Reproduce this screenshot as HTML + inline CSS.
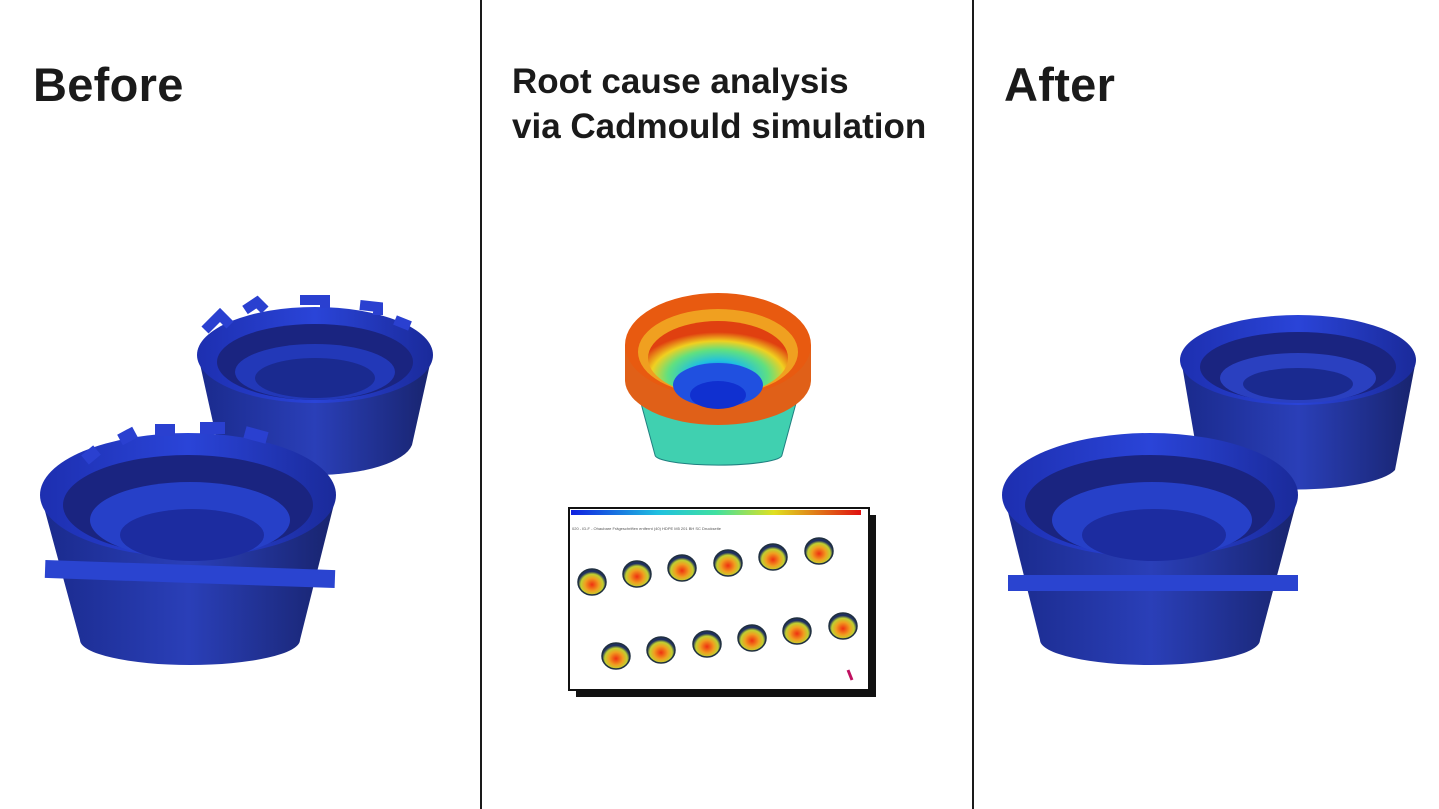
<!DOCTYPE html>
<html><head><meta charset="utf-8"><style>
html,body{margin:0;padding:0;background:#fff;}
body{width:1439px;height:809px;position:relative;overflow:hidden;font-family:"Liberation Sans",sans-serif;color:#1a1a1a;}
.t{position:absolute;font-weight:bold;margin:0;}
.vl{position:absolute;top:0;width:2px;height:809px;background:#1a1a1a;}
svg{position:absolute;left:0;top:0;}
</style></head><body>
<div class="vl" style="left:480px"></div>
<div class="vl" style="left:972px"></div>
<div class="t" style="left:33px;top:57px;font-size:47px;letter-spacing:0.3px">Before</div>
<div class="t" style="left:1004px;top:57px;font-size:47px;letter-spacing:0.3px">After</div>
<div class="t" style="left:512px;top:59px;font-size:35px;line-height:45px;letter-spacing:0px">Root cause analysis<br>via Cadmould simulation</div>
<svg width="1439" height="809" viewBox="0 0 1439 809">
<defs>
<linearGradient id="bl" x1="0" x2="1"><stop offset="0" stop-color="#1d2fb0"/><stop offset="0.5" stop-color="#2a44d8"/><stop offset="1" stop-color="#1a2a9a"/></linearGradient>
<linearGradient id="bd" x1="0" x2="1"><stop offset="0" stop-color="#1a2a8c"/><stop offset="0.5" stop-color="#2a3fb8"/><stop offset="1" stop-color="#18246e"/></linearGradient>
<radialGradient id="sim" cx="0.5" cy="0.75" r="0.6"><stop offset="0" stop-color="#1030e0"/><stop offset="0.35" stop-color="#20c0e0"/><stop offset="0.6" stop-color="#60e080"/><stop offset="0.8" stop-color="#f0d020"/><stop offset="1" stop-color="#e04010"/></radialGradient>
<linearGradient id="bar" x1="0" x2="1"><stop offset="0" stop-color="#1020e0"/><stop offset="0.3" stop-color="#20c0e0"/><stop offset="0.5" stop-color="#40e0a0"/><stop offset="0.7" stop-color="#e0e020"/><stop offset="1" stop-color="#e01010"/></linearGradient>
<radialGradient id="mini" cx="0.5" cy="0.6" r="0.5"><stop offset="0" stop-color="#f03010"/><stop offset="0.5" stop-color="#f0a020"/><stop offset="0.8" stop-color="#c0d030"/><stop offset="1" stop-color="#203060"/></radialGradient>
</defs>
<g>
<path d="M198 355 L218 445 A98 35 0 0 0 412 445 L432 355 Z" fill="url(#bd)"/>
<ellipse cx="315" cy="355" rx="118" ry="48" fill="url(#bl)"/>
<ellipse cx="315" cy="362" rx="98" ry="38" fill="#1a2480"/>
<ellipse cx="315" cy="372" rx="80" ry="28" fill="#2238b8"/>
<ellipse cx="315" cy="378" rx="60" ry="20" fill="#1a2a90"/>
<path d="M205 330 l15 -15 l10 10 M245 310 l12 -8 l8 8 M300 300 h25 v8 M360 305 l18 2 v8 M395 320 l15 6" stroke="#2a40d0" stroke-width="10" fill="none"/>
</g>
<g>
<path d="M42 500 L80 640 A110 25 0 0 0 300 640 L335 500 Z" fill="url(#bd)"/>
<ellipse cx="188" cy="495" rx="148" ry="62" fill="url(#bl)"/>
<ellipse cx="188" cy="505" rx="125" ry="50" fill="#1a2480"/>
<ellipse cx="190" cy="520" rx="100" ry="38" fill="#2640c8"/>
<ellipse cx="192" cy="535" rx="72" ry="26" fill="#1c2ca0"/>
<rect x="45" y="565" width="290" height="18" fill="#2a44d0" transform="rotate(2 190 574)"/>
<path d="M85 460 l12 -10 M120 440 l15 -8 M155 430 h20 M200 428 h25 M245 432 l22 6" stroke="#2a40d0" stroke-width="12" fill="none"/>
</g>
<g>
<path d="M1182 365 L1200 470 A100 25 0 0 0 1395 470 L1415 365 Z" fill="url(#bd)"/>
<ellipse cx="1298" cy="360" rx="118" ry="45" fill="url(#bl)"/>
<ellipse cx="1298" cy="367" rx="98" ry="35" fill="#1a2480"/>
<ellipse cx="1298" cy="378" rx="78" ry="25" fill="#2a40c0"/>
<ellipse cx="1298" cy="384" rx="55" ry="16" fill="#1a2a90"/>
</g>
<g>
<path d="M1005 500 L1040 640 A110 25 0 0 0 1260 640 L1297 500 Z" fill="url(#bd)"/>
<ellipse cx="1150" cy="495" rx="148" ry="62" fill="url(#bl)"/>
<ellipse cx="1150" cy="505" rx="125" ry="50" fill="#1a2480"/>
<ellipse cx="1152" cy="520" rx="100" ry="38" fill="#2640c8"/>
<ellipse cx="1154" cy="535" rx="72" ry="26" fill="#1c2ca0"/>
<rect x="1008" y="575" width="290" height="16" fill="#2a44d0"/>
</g>
<g>
<path d="M632 370 L655 455 A63 10 0 0 0 782 455 L805 370 Z" fill="#40d0b0" stroke="#208080" stroke-width="1"/>
<path d="M625 345 L625 380 A93 45 0 0 0 811 380 L811 345 Z" fill="#e06018"/>
<ellipse cx="718" cy="345" rx="93" ry="52" fill="#e85a10"/>
<ellipse cx="718" cy="352" rx="80" ry="43" fill="#f0a020"/>
<ellipse cx="718" cy="358" rx="70" ry="37" fill="url(#sim)"/>
<ellipse cx="718" cy="385" rx="45" ry="22" fill="#2050e0"/>
<ellipse cx="718" cy="395" rx="28" ry="14" fill="#1030d0"/>
</g>
<rect x="576" y="515" width="300" height="182" fill="#111"/>
<rect x="569" y="508" width="300" height="182" fill="#fff" stroke="#111" stroke-width="2"/>
<rect x="571" y="510" width="290" height="5" fill="url(#bar)"/>
<text x="572" y="530" font-size="4" fill="#555">020 - ID-F - Ohaubare Frägeschriften entfernt (40) HDPE M5 201 BH SC Druckseite</text>
<g fill="url(#mini)" stroke="#203040" stroke-width="1.5">
<ellipse cx="592" cy="582" rx="14" ry="13"/><ellipse cx="637" cy="574" rx="14" ry="13"/><ellipse cx="682" cy="568" rx="14" ry="13"/>
<ellipse cx="728" cy="563" rx="14" ry="13"/><ellipse cx="773" cy="557" rx="14" ry="13"/><ellipse cx="819" cy="551" rx="14" ry="13"/>
<ellipse cx="616" cy="656" rx="14" ry="13"/><ellipse cx="661" cy="650" rx="14" ry="13"/><ellipse cx="707" cy="644" rx="14" ry="13"/>
<ellipse cx="752" cy="638" rx="14" ry="13"/><ellipse cx="797" cy="631" rx="14" ry="13"/><ellipse cx="843" cy="626" rx="14" ry="13"/>
</g>
<path d="M848 670 l4 10" stroke="#c01060" stroke-width="3"/>
</svg>
</body></html>
